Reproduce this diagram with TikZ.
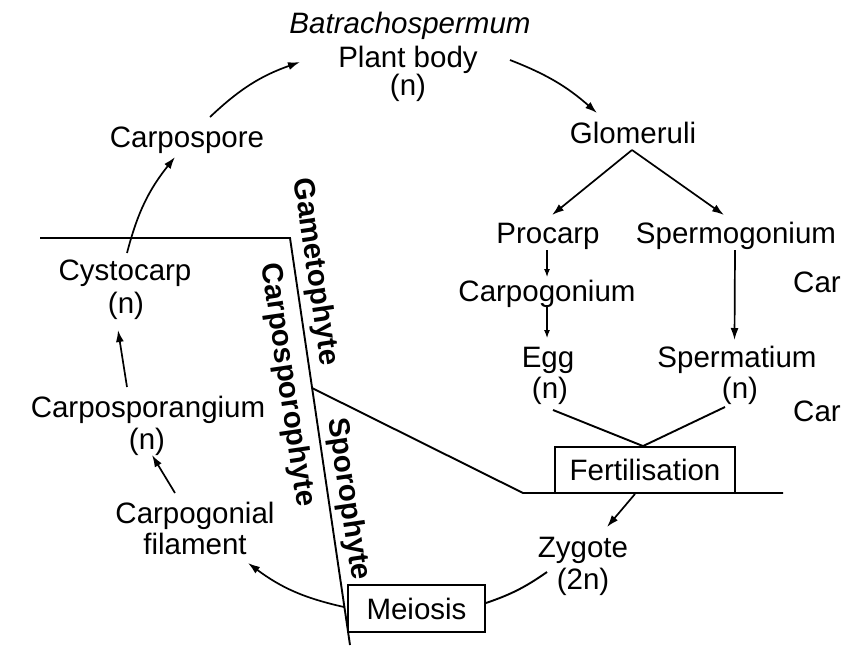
\documentclass[tikz,border=0pt]{standalone}
\usepackage{fontspec}
\setmainfont{Liberation Sans}
\usetikzlibrary{arrows.meta}
\begin{document}
\begin{tikzpicture}[x=1pt,y=-1pt,
  lbl/.style={anchor=base,inner sep=0pt,font=\fontsize{29.5}{34}\selectfont},
  side/.style={inner sep=0pt,font=\fontsize{29.5}{34}\selectfont\bfseries,rotate=-81.6},
  boxed/.style={draw,line width=1.9pt,inner sep=0pt,font=\fontsize{29.5}{34}\selectfont},
  arr/.style={line width=1.7pt,-{Latex[length=12pt,width=8pt]}},
  smallarr/.style={line width=1.1pt,-{Latex[length=8pt,width=6pt]}},
  ln/.style={line width=1.9pt}]
\useasboundingbox (0,0) rectangle (853,649);
% texts
\node[lbl,font=\fontsize{29.5}{34}\selectfont\itshape] (batr) at (410,33) {Batrachospermum};
\node[lbl] (plantb) at (408,67) {Plant body};
\node[lbl] (plantn) at (408,95) {(n)};
\node[lbl] (glom) at (633,143) {Glomeruli};
\node[lbl] (carpospore) at (187,147) {Carpospore};
\node[lbl] (procarp) at (548,243) {Procarp};
\node[lbl] (spermog) at (736,243) {Spermogonium};
\node[lbl] (carpog) at (547,301) {Carpogonium};
\node[lbl] (egg) at (548,367) {Egg};
\node[lbl] (eggn) at (550,398) {(n)};
\node[lbl] (spermat) at (737,367) {Spermatium};
\node[lbl] (spermatn) at (740,398) {(n)};
\node[lbl,anchor=base west] (car1) at (793,292) {Car};
\node[lbl,anchor=base west] (car2) at (793,421) {Car};
\node[boxed,minimum width=180pt,minimum height=46pt] (fert) at (645,470) {Fertilisation};
\node[lbl] (zyg) at (583,557) {Zygote};
\node[lbl] (zygn) at (583,589) {(2n)};
\node[boxed,minimum width=137pt,minimum height=47pt] (meiosis) at (416.5,608.5) {Meiosis};
\node[lbl] (cpfil1) at (195,523) {Carpogonial};
\node[lbl] (cpfil2) at (195,554) {filament};
\node[lbl] (cspor) at (148,417) {Carposporangium};
\node[lbl] (csporn) at (147,449) {(n)};
\node[lbl] (cysto) at (125,280) {Cystocarp};
\node[lbl] (cyston) at (126,313) {(n)};
\node[side] (gameto) at (315,272) {Gametophyte};
\node[side] (carpsp) at (287,385) {Carposporophyte};
\node[side] (sporo) at (348,499) {Sporophyte};
% boundary lines
\coordinate (tl) at (40,238);
\coordinate (corner) at (290,238);
\coordinate (bot) at (350,645);
\coordinate (junc) at (312,388);
\coordinate (kink) at (523,493);
\coordinate (rend) at (783,493);
\draw[ln] (tl) -- (corner) -- (bot);
\draw[ln] (junc) -- (kink) -- (rend);
% connectors
\draw[arr] ([shift={(23,-30)}]carpospore.base) to[bend left=12] ([shift={(-108,-5)}]plantb.base);
\draw[arr] ([shift={(102,-7)}]plantb.base) to[bend left=10] ([shift={(-36,-30)}]glom.base);
\draw[arr] ([shift={(-1,7)}]glom.base) -- ([shift={(4,-28)}]procarp.base);
\draw[arr] ([shift={(-1,7)}]glom.base) -- ([shift={(-12,-28)}]spermog.base);
\draw[smallarr] ([shift={(-1,7)}]procarp.base) -- ([shift={(0,-24)}]carpog.base);
\draw[smallarr] ([shift={(0,4)}]carpog.base) -- ([shift={(-1,-29)}]egg.base);
\draw[arr] ([shift={(-1,7)}]spermog.base) -- ([shift={(-2.5,-27)}]spermat.base);
\draw[ln] ([shift={(3,12)}]eggn.base) -- ([xshift=-2pt]fert.north) -- ([shift={(-15,9)}]spermatn.base);
\draw[arr] ([xshift=-10pt]fert.south) -- ([shift={(24,-30)}]zyg.base);
\draw[ln] ([shift={(-36,-17)}]zygn.base) to[bend left=8] ([shift={(0,-5.5)}]meiosis.east);
\draw[arr] ([shift={(-3,-1.5)}]meiosis.west) to[bend left=12] ([shift={(53,9)}]cpfil2.base);
\draw[arr] ([shift={(-20,-30)}]cpfil1.base) -- ([shift={(5,6)}]csporn.base);
\draw[arr] ([shift={(-21,-30)}]cspor.base) -- ([shift={(-8,17)}]cyston.base);
\draw[arr] ([shift={(2,-27)}]cysto.base) to[bend left=12] ([shift={(-12,10)}]carpospore.base);
\end{tikzpicture}
\end{document}
